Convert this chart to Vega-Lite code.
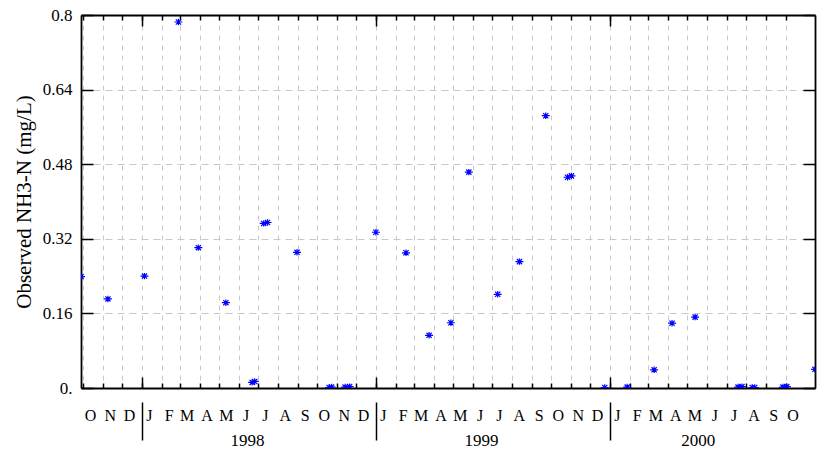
{
  "$schema": "https://vega.github.io/schema/vega-lite/v6.json",
  "width": 734,
  "height": 373,
  "autosize": {"type": "none"},
  "padding": {"left": 81, "top": 15, "right": 10, "bottom": 64},
  "background": "white",
  "config": {"view": {"stroke": null}, "axis": {"labelFont": "Liberation Serif", "titleFont": "Liberation Serif", "labelColor": "black", "titleColor": "black", "titleFontWeight": "normal"}},
  "data": {
    "values": [
      {"date": "1997-09-28", "value": 0.239},
      {"date": "1997-11-09", "value": 0.191},
      {"date": "1998-01-05", "value": 0.240},
      {"date": "1998-02-27", "value": 0.785},
      {"date": "1998-03-30", "value": 0.301},
      {"date": "1998-05-12", "value": 0.183},
      {"date": "1998-06-22", "value": 0.012},
      {"date": "1998-06-26", "value": 0.014},
      {"date": "1998-07-10", "value": 0.353},
      {"date": "1998-07-16", "value": 0.355},
      {"date": "1998-08-31", "value": 0.291},
      {"date": "1998-10-20", "value": 0.001},
      {"date": "1998-10-24", "value": 0.002},
      {"date": "1998-11-14", "value": 0.002},
      {"date": "1998-11-21", "value": 0.003},
      {"date": "1999-01-01", "value": 0.334},
      {"date": "1999-02-17", "value": 0.290},
      {"date": "1999-03-25", "value": 0.113},
      {"date": "1999-04-28", "value": 0.140},
      {"date": "1999-05-26", "value": 0.463},
      {"date": "1999-07-10", "value": 0.201},
      {"date": "1999-08-13", "value": 0.271},
      {"date": "1999-09-23", "value": 0.584},
      {"date": "1999-10-27", "value": 0.452},
      {"date": "1999-11-02", "value": 0.455},
      {"date": "1999-12-24", "value": 0.001},
      {"date": "2000-01-28", "value": 0.002},
      {"date": "2000-03-10", "value": 0.039},
      {"date": "2000-04-07", "value": 0.139},
      {"date": "2000-05-13", "value": 0.152},
      {"date": "2000-07-19", "value": 0.002},
      {"date": "2000-07-25", "value": 0.003},
      {"date": "2000-08-10", "value": 0.001},
      {"date": "2000-08-14", "value": 0.001},
      {"date": "2000-09-27", "value": 0.002},
      {"date": "2000-10-03", "value": 0.003},
      {"date": "2000-11-16", "value": 0.040}
    ]
  },
  "layer": [
    {
      "mark": {"type": "point", "opacity": 0},
      "encoding": {
        "x": {"field": "date", "type": "temporal",
          "scale": {"domain": [{"year": 1997, "month": 9, "date": 28}, {"year": 2000, "month": 11, "date": 16}]},
          "axis": {"orient": "bottom", "title": null, "tickCount": {"interval": "month", "step": 1},
            "ticks": false, "domain": true, "domainColor": "black", "domainWidth": 1.8,
            "labelExpr": "datum.value > datetime(2000, 9, 15) ? '' : slice(timeFormat(datum.value, '%b'), 0, 1)",
            "labelOffset": 7, "labelPadding": 19, "labelBaseline": "top", "labelFontSize": 16,
            "labelOverlap": false, "labelFlush": false, "labelBound": false,
            "grid": true, "gridColor": "#c8c8c8", "gridDash": [5, 5], "gridWidth": 1,
            "gridOpacity": {"condition": {"test": "datum.value > datetime(2000, 9, 15)", "value": 0}, "value": 1}}},
        "y": {"field": "value", "type": "quantitative", "scale": {"domain": [0, 0.8]},
          "axis": {"orient": "left", "title": "Observed NH3-N (mg/L)", "titleFontSize": 21, "titlePadding": 8,
            "values": [0, 0.16, 0.32, 0.48, 0.64, 0.8],
            "labelExpr": "datum.value == 0 ? '0.' : format(datum.value, '.2~f')",
            "ticks": false, "labelPadding": 9, "labelFontSize": 17, "labelOverlap": false, "labelFlush": false,
            "domain": true, "domainColor": "black", "domainWidth": 1.8,
            "grid": true, "gridColor": "#c8c8c8", "gridDash": [7, 5], "gridWidth": 1}}
      }
    },
    {
      "mark": {"type": "point", "opacity": 0},
      "encoding": {
        "x": {"field": "date", "type": "temporal",
          "scale": {"domain": [{"year": 1997, "month": 9, "date": 28}, {"year": 2000, "month": 11, "date": 16}]},
          "axis": {"orient": "bottom", "title": null, "tickCount": {"interval": "month", "step": 1},
            "ticks": true, "tickSize": -5, "tickWidth": 1.5, "tickColor": "black",
            "tickOpacity": {"condition": {"test": "datum.value > datetime(2000, 9, 15)", "value": 0}, "value": 1},
            "labels": false, "domain": false, "grid": false}},
        "y": {"field": "value", "type": "quantitative", "scale": {"domain": [0, 0.8]},
          "axis": {"orient": "right", "title": null, "values": [0, 0.16, 0.32, 0.48, 0.64, 0.8],
            "ticks": true, "tickSize": -12, "tickWidth": 1.5, "tickColor": "black",
            "labels": false, "domain": true, "domainColor": "black", "domainWidth": 1.8, "grid": false}}
      }
    },
    {
      "mark": {"type": "point", "opacity": 0},
      "encoding": {
        "x": {"field": "date", "type": "temporal",
          "scale": {"domain": [{"year": 1997, "month": 9, "date": 28}, {"year": 2000, "month": 11, "date": 16}]},
          "axis": {"orient": "top", "title": null, "tickCount": {"interval": "month", "step": 1},
            "ticks": true, "tickSize": -5, "tickWidth": 1.5, "tickColor": "black",
            "tickOpacity": {"condition": {"test": "datum.value > datetime(2000, 9, 15)", "value": 0}, "value": 1},
            "labels": false, "domain": true, "domainColor": "black", "domainWidth": 1.8, "grid": false}},
        "y": {"field": "value", "type": "quantitative", "scale": {"domain": [0, 0.8]},
          "axis": {"orient": "left", "title": null, "values": [0, 0.16, 0.32, 0.48, 0.64, 0.8],
            "ticks": true, "tickSize": -12, "tickWidth": 1.5, "tickColor": "black",
            "labels": false, "domain": false, "grid": false}}
      }
    },
    {
      "mark": {"type": "point", "opacity": 0},
      "encoding": {
        "x": {"field": "date", "type": "temporal",
          "scale": {"domain": [{"year": 1997, "month": 9, "date": 28}, {"year": 2000, "month": 11, "date": 16}]},
          "axis": {"orient": "top", "title": null, "tickCount": {"interval": "year", "step": 1},
            "ticks": true, "tickSize": -11, "tickWidth": 1.5, "tickColor": "black",
            "labels": false, "domain": false, "grid": false}}
      }
    },
    {
      "mark": {"type": "point", "opacity": 0},
      "encoding": {
        "x": {"field": "date", "type": "temporal",
          "scale": {"domain": [{"year": 1997, "month": 9, "date": 28}, {"year": 2000, "month": 11, "date": 16}]},
          "axis": {"orient": "bottom", "title": null, "tickCount": {"interval": "year", "step": 1},
            "ticks": true, "tickSize": -11, "tickWidth": 1.5, "tickColor": "black",
            "labels": false, "domain": false, "grid": false}}
      }
    },
    {
      "mark": {"type": "point", "opacity": 0},
      "encoding": {
        "x": {"field": "date", "type": "temporal",
          "scale": {"domain": [{"year": 1997, "month": 9, "date": 28}, {"year": 2000, "month": 11, "date": 16}]},
          "axis": {"orient": "bottom", "title": null, "offset": 14, "tickCount": {"interval": "year", "step": 1},
            "ticks": true, "tickSize": 38, "tickWidth": 1.5, "tickColor": "black",
            "labels": true, "labelExpr": "timeFormat(datum.value, '%Y')", "labelFontSize": 17,
            "labelBaseline": "top", "labelPadding": -8, "labelOverlap": false, "labelFlush": false, "labelBound": false,
            "labelOffset": {"condition": {"test": "year(datum.value) == 2000", "value": 88}, "value": 105},
            "domain": false, "grid": false}}
      }
    },
    {
      "mark": {"type": "point", "clip": true, "filled": false,
        "shape": "M-1,0L1,0M0,-0.8L0,0.8M-0.65,-0.65L0.65,0.65M-0.65,0.65L0.65,-0.65",
        "size": 64, "stroke": "#0000ff", "strokeWidth": 1.2, "opacity": 1},
      "encoding": {
        "x": {"field": "date", "type": "temporal",
          "scale": {"domain": [{"year": 1997, "month": 9, "date": 28}, {"year": 2000, "month": 11, "date": 16}]},
          "axis": null},
        "y": {"field": "value", "type": "quantitative", "scale": {"domain": [0, 0.8]}, "axis": null}
      }
    }
  ],
  "resolve": {"axis": {"x": "independent", "y": "independent"}}
}
